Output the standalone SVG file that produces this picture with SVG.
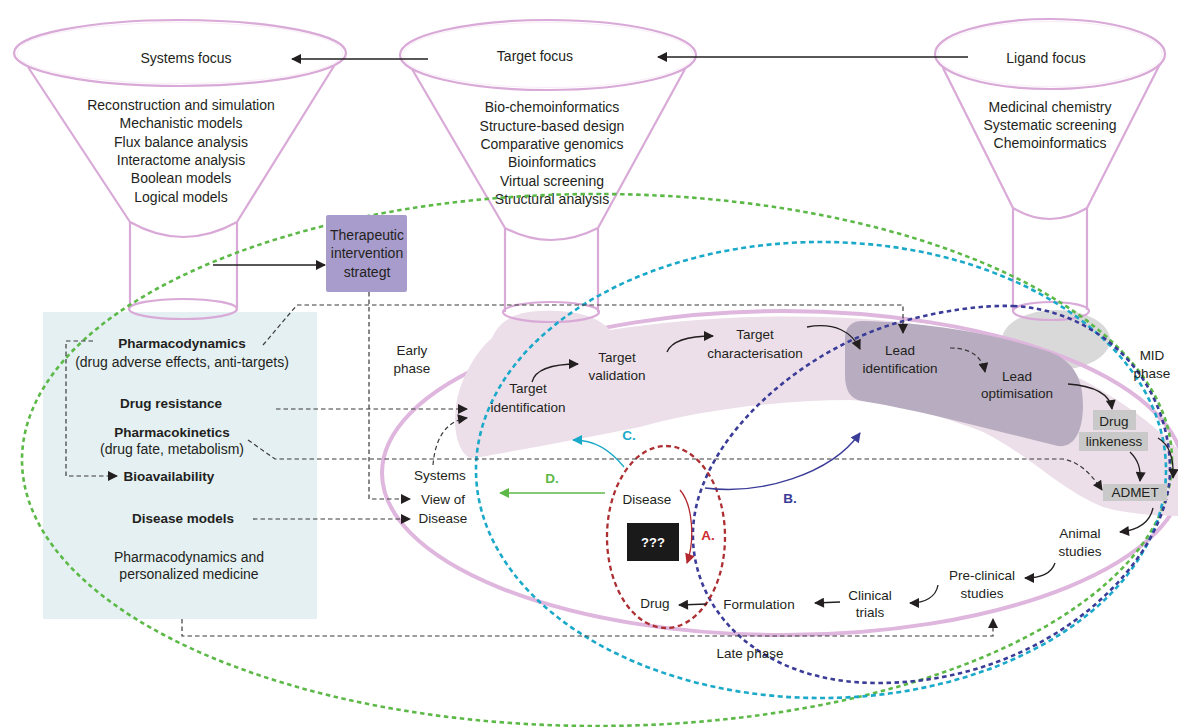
<svg xmlns="http://www.w3.org/2000/svg" width="1178" height="727" viewBox="0 0 1178 727">
<style>
text{font-family:"Liberation Sans",Arial,sans-serif;font-size:14px;fill:#231f20;text-anchor:middle}
.b{font-weight:bold;font-size:13.5px}
.s{font-size:13.5px}
.lab{font-weight:bold;font-size:13.5px}
.fun{fill:none;stroke:#d9a9d7;stroke-width:2.2}
.funi{fill:none;stroke:#f6e8f5;stroke-width:0.8}
.dash{fill:none;stroke:#3a3a3a;stroke-width:1.2;stroke-dasharray:4.5,3}
.solid{fill:none;stroke:#231f20;stroke-width:1.3}
.ring{fill:none;stroke:#dfb6dd;stroke-width:4}
</style>
<defs>
<marker id="ah" viewBox="0 0 10 10" refX="9" refY="5" markerWidth="11" markerHeight="10" markerUnits="userSpaceOnUse" orient="auto"><path d="M0,0 L10,5 L0,10 z" fill="#231f20"/></marker>
<marker id="ahR" viewBox="0 0 10 10" refX="9" refY="5" markerWidth="11" markerHeight="10" markerUnits="userSpaceOnUse" orient="auto"><path d="M0,0 L10,5 L0,10 z" fill="#b2282e"/></marker>
<marker id="ahC" viewBox="0 0 10 10" refX="9" refY="5" markerWidth="11" markerHeight="10" markerUnits="userSpaceOnUse" orient="auto"><path d="M0,0 L10,5 L0,10 z" fill="#1ba9c9"/></marker>
<marker id="ahG" viewBox="0 0 10 10" refX="9" refY="5" markerWidth="11" markerHeight="10" markerUnits="userSpaceOnUse" orient="auto"><path d="M0,0 L10,5 L0,10 z" fill="#5cb947"/></marker>
<marker id="ahB" viewBox="0 0 10 10" refX="9" refY="5" markerWidth="11" markerHeight="10" markerUnits="userSpaceOnUse" orient="auto"><path d="M0,0 L10,5 L0,10 z" fill="#3b3c98"/></marker>
</defs>
<rect width="1178" height="727" fill="#ffffff"/>

<!-- background shapes -->
<g id="left-panel">
<rect x="43" y="312" width="274" height="307" fill="#e4f0f2"/>
</g>
<g id="phase-ring">
<ellipse cx="1056" cy="340" rx="54" ry="30" fill="#d9d9d9"/>
<ellipse cx="783" cy="473" rx="401" ry="162" class="ring"/>
<path d="M470,458 C455,450 452,420 458,395 C465,370 478,350 492,338 C500,320 515,312 540,311 C570,310 595,314 610,330 C700,316 800,312 900,322 C1000,335 1110,380 1178,449 L1178,516 C1150,516 1120,512 1103,507 C1060,490 1030,455 983,432 C940,415 890,402 850,400 C780,400 700,410 640,427 C590,437 520,450 480,457 Z" fill="#ecdfe9"/>
<path d="M862,321 C930,322 1000,335 1050,352 C1075,362 1083,380 1083,405 C1083,430 1075,448 1058,446 C1000,432 920,410 862,401 C850,399 845,390 845,375 L845,338 C845,327 852,321 862,321 Z" fill="#b8adc0"/>
</g>

<!-- funnels -->
<g id="systems-focus">
<path class="fun" d="M28,67 L130,222 L130,308 M334,66 L237,222 L237,308 M130,222 Q183,252 237,222"/>
<ellipse cx="180" cy="53" rx="166" ry="33" class="fun" fill="#fff"/>
<ellipse cx="180" cy="53" rx="163" ry="30.5" class="funi"/>
<ellipse cx="183" cy="309" rx="54" ry="10" class="fun"/>
<text x="186" y="63">Systems focus</text>
<text x="181" y="110">Reconstruction and simulation</text>
<text x="181" y="128">Mechanistic models</text>
<text x="181" y="147">Flux balance analysis</text>
<text x="181" y="165">Interactome analysis</text>
<text x="181" y="183">Boolean models</text>
<text x="181" y="202">Logical models</text>
</g>
<g id="target-focus">
<path class="fun" d="M412,69 L505,228 L505,312 M685,69 L598,228 L598,312 M505,228 Q551,252 598,228"/>
<ellipse cx="548" cy="55" rx="148" ry="35" class="fun" fill="#fff"/>
<ellipse cx="548" cy="55" rx="145" ry="32.5" class="funi"/>
<ellipse cx="551" cy="312" rx="48" ry="10" class="fun" fill="#ecdfe9"/>
<text x="535" y="61">Target focus</text>
<text x="552" y="112">Bio-chemoinformatics</text>
<text x="552" y="131">Structure-based design</text>
<text x="552" y="149">Comparative genomics</text>
<text x="552" y="167">Bioinformatics</text>
<text x="552" y="186">Virtual screening</text>
<text x="552" y="204">Structural analysis</text>
</g>
<g id="ligand-focus">
<path class="fun" d="M943,68 L1013,208 L1013,310 M1160,64 L1087,208 L1087,310 M1013,208 Q1050,230 1087,208"/>
<ellipse cx="1050" cy="54" rx="115" ry="35" class="fun" fill="#fff"/>
<ellipse cx="1050" cy="54" rx="112" ry="32.5" class="funi"/>
<ellipse cx="1051" cy="311" rx="38" ry="9" class="fun" fill="#d9d9d9"/>
<text x="1046" y="63">Ligand focus</text>
<text x="1050" y="112">Medicinal chemistry</text>
<text x="1050" y="130">Systematic screening</text>
<text x="1050" y="148">Chemoinformatics</text>
</g>

<!-- large dotted overlays -->
<g id="approach-loops" fill="none" stroke-width="2.6">
<ellipse cx="597" cy="460" rx="575" ry="266" stroke="#5cb947" stroke-dasharray="4.5,3.5"/>
<ellipse cx="821" cy="470" rx="345" ry="228" stroke="#1ba9c9" stroke-dasharray="5,3.5"/>
<path d="M1013,306 C1100,310 1170,380 1170,470 C1170,560 1050,682 880,683 C760,684 690,610 693,530 C697,440 800,350 900,322 C940,311 980,305 1013,306 Z" stroke="#3b3c98" stroke-dasharray="4.5,3.5"/>
<ellipse cx="666" cy="537" rx="59" ry="91" stroke="#ad2f32" stroke-dasharray="5,3.5" stroke-width="2.3"/>
</g>

<g id="therapeutic-intervention">
<rect x="326" y="215" width="81" height="77" rx="2" fill="#a89ccc"/>
<text x="367" y="240">Therapeutic</text>
<text x="367" y="258">intervention</text>
<text x="367" y="277">strategt</text>
</g>

<!-- connectors -->
<g id="connectors">
<path class="solid" d="M428,59 H292" marker-end="url(#ah)"/>
<path class="solid" d="M968,57 H658" marker-end="url(#ah)"/>
<path class="solid" d="M213,265 H325" marker-end="url(#ah)"/>
<path class="dash" d="M369,292 V499 H410" marker-end="url(#ah)"/>
<path class="dash" d="M253,519 H410" marker-end="url(#ah)"/>
<path class="dash" d="M93,341 H66 V476 H117" marker-end="url(#ah)"/>
<path class="dash" d="M263,345 L297,305 H903 V333" marker-end="url(#ah)"/>
<path class="dash" d="M276,409 H467" marker-end="url(#ah)"/>
<path class="dash" d="M248,440 L275,459 H1063 C1080,462 1092,475 1102,490" marker-end="url(#ah)"/>
<path class="dash" d="M433,465 C435,440 445,421 467,418" marker-end="url(#ah)"/>
<path class="dash" d="M182,619 V636 H993 V619" marker-end="url(#ah)"/>
<path class="solid" d="M532,382 C535,370 550,364 578,364" marker-end="url(#ah)"/>
<path class="solid" d="M667,352 C672,340 690,336 713,336" marker-end="url(#ah)"/>
<path class="solid" d="M807,327 C835,322 852,332 860,349" marker-end="url(#ah)"/>
<path class="dash" d="M950,348 C970,348 982,356 985,372" marker-end="url(#ah)"/>
<path class="solid" d="M1068,384 C1095,386 1110,395 1112,409" marker-end="url(#ah)"/>
<path class="solid" d="M1130,452 C1138,460 1141,468 1140,481" marker-end="url(#ah)"/>
<path class="solid" d="M1158,438 C1170,445 1174,460 1173,478" marker-end="url(#ah)"/>
<path class="solid" d="M1153,508 C1150,522 1138,530 1120,532" marker-end="url(#ah)"/>
<path class="solid" d="M1055,563 C1052,572 1042,578 1025,578" marker-end="url(#ah)"/>
<path class="solid" d="M938,585 C936,597 925,603 910,603" marker-end="url(#ah)"/>
<path class="solid" d="M840,602 L815,603" marker-end="url(#ah)"/>
<path class="solid" d="M707,604 L679,605" marker-end="url(#ah)"/>
<path d="M680,490 C693,505 695,540 687,563" fill="none" stroke="#b2282e" stroke-width="1.3" marker-end="url(#ahR)"/>
<path d="M624,467 C610,450 595,440 573,440" fill="none" stroke="#1ba9c9" stroke-width="1.3" marker-end="url(#ahC)"/>
<path d="M605,493 H500" fill="none" stroke="#5cb947" stroke-width="1.3" marker-end="url(#ahG)"/>
<path d="M705,488 C760,495 830,475 860,433" fill="none" stroke="#3b3c98" stroke-width="1.3" marker-end="url(#ahB)"/>
</g>

<!-- left panel text -->
<g id="pharmacodynamics"><text class="b" x="182" y="348">Pharmacodynamics</text><text x="182" y="367">(drug adverse effects, anti-targets)</text></g>
<g id="drug-resistance"><text class="b" x="171" y="408">Drug resistance</text></g>
<g id="pharmacokinetics"><text class="b" x="172" y="437">Pharmacokinetics</text><text x="172" y="454">(drug fate, metabolism)</text></g>
<g id="bioavailability"><text class="b" x="169" y="481">Bioavailability</text></g>
<g id="disease-models"><text class="b" x="183" y="523">Disease models</text></g>
<g id="personalized"><text x="189" y="562">Pharmacodynamics and</text><text x="189" y="579">personalized medicine</text></g>

<g id="early-phase"><text class="s" x="412" y="355">Early</text><text class="s" x="412" y="373">phase</text></g>
<g id="systems-view"><text class="s" x="440" y="480">Systems</text><text class="s" x="443" y="504">View of</text><text class="s" x="443" y="523">Disease</text></g>
<g id="target-identification"><text class="s" x="528" y="393">Target</text><text class="s" x="528" y="412">identification</text></g>
<g id="target-validation"><text class="s" x="617" y="362">Target</text><text class="s" x="617" y="380">validation</text></g>
<g id="target-characterisation"><text class="s" x="755" y="339">Target</text><text class="s" x="755" y="358">characterisation</text></g>
<g id="lead-identification"><text class="s" x="900" y="355">Lead</text><text class="s" x="900" y="373">identification</text></g>
<g id="lead-optimisation"><text class="s" x="1017" y="381">Lead</text><text class="s" x="1017" y="398">optimisation</text></g>
<g id="mid-phase"><text class="s" x="1152" y="360">MID</text><text class="s" x="1152" y="378">phase</text></g>
<g id="drug-linkeness">
<rect x="1093" y="410" width="43" height="20" fill="#c9c9c9"/>
<rect x="1079" y="432" width="69" height="19" fill="#c9c9c9"/>
<text class="s" x="1114" y="426">Drug</text><text class="s" x="1114" y="446">linkeness</text></g>
<g id="admet"><rect x="1103" y="484" width="64" height="17" fill="#c9c9c9"/><text class="s" x="1135" y="497">ADMET</text></g>
<g id="animal-studies"><text class="s" x="1080" y="538">Animal</text><text class="s" x="1080" y="556">studies</text></g>
<g id="pre-clinical"><text class="s" x="982" y="580">Pre-clinical</text><text class="s" x="982" y="598">studies</text></g>
<g id="clinical-trials"><text class="s" x="870" y="600">Clinical</text><text class="s" x="870" y="617">trials</text></g>
<g id="formulation"><text class="s" x="759" y="609">Formulation</text></g>
<g id="drug"><text class="s" x="655" y="608">Drug</text></g>
<g id="disease"><text class="s" x="647" y="504">Disease</text></g>
<g id="unknown"><rect x="627" y="523" width="52" height="38" fill="#1a1a1a"/><text x="653" y="547" style="fill:#fff;font-size:13px;font-weight:bold">???</text></g>
<g id="labels">
<text class="lab" x="708" y="540" style="fill:#cf2a2e">A.</text>
<text class="lab" x="790" y="503" style="fill:#3b3c98">B.</text>
<text class="lab" x="629" y="440" style="fill:#1ba9c9">C.</text>
<text class="lab" x="552" y="483" style="fill:#5cb947">D.</text>
</g>
<g id="late-phase"><text class="s" x="750" y="658">Late phase</text></g>
</svg>
